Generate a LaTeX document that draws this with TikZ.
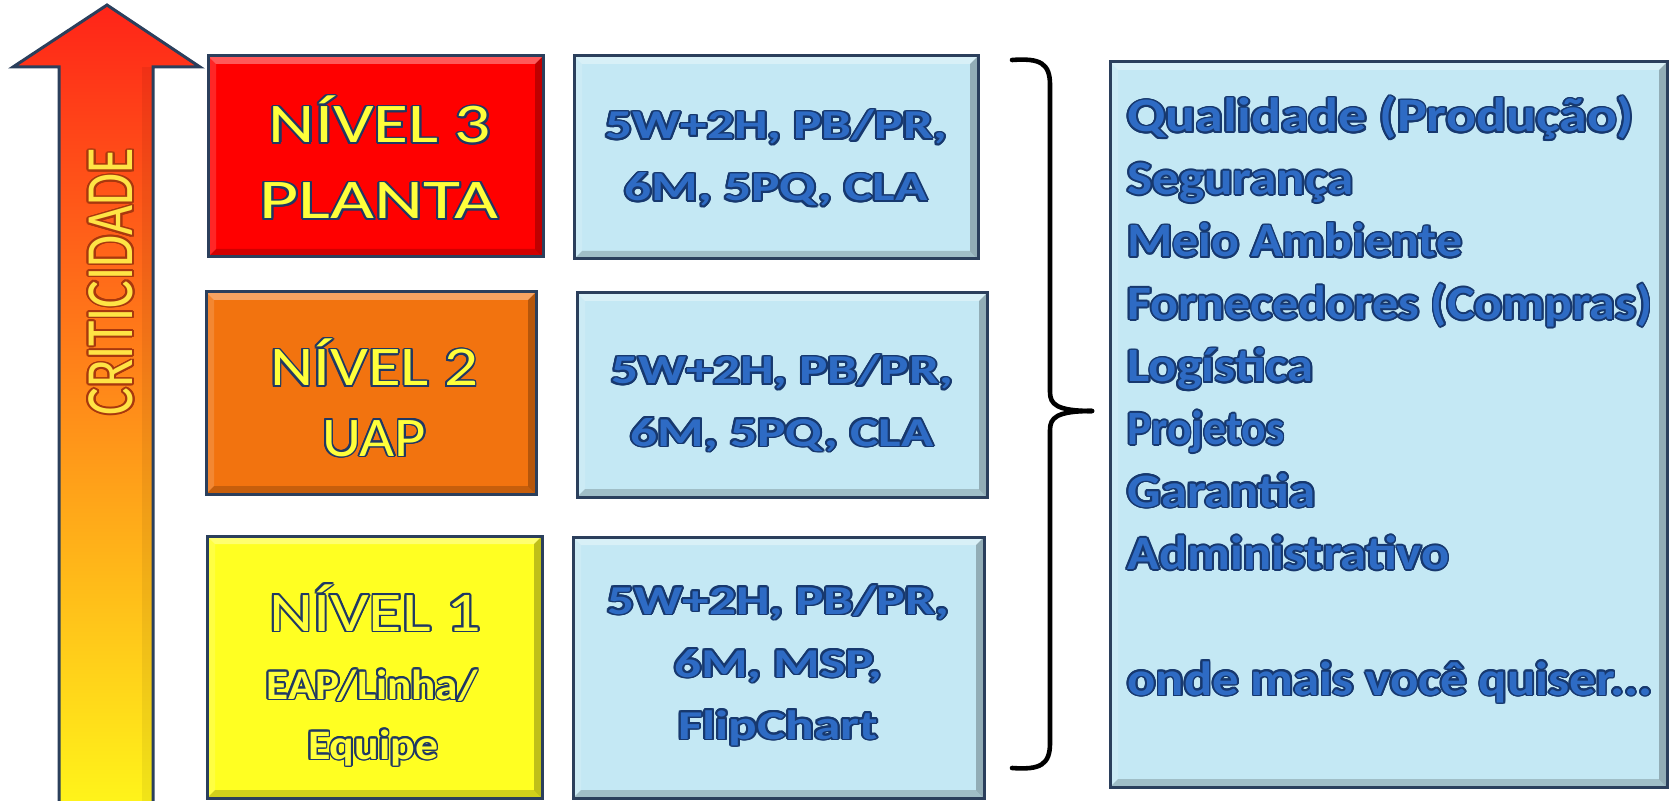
\documentclass[tikz,border=0pt]{standalone}
\usepackage{fontspec}
\setmainfont{Carlito}
\usepackage{graphicx}
\usepackage{contour}
\contourlength{0.8pt}

\definecolor{cEdge}{HTML}{2B3F5C}
\definecolor{cRed}{HTML}{FF0000}
\definecolor{cOrange}{HTML}{F2730F}
\definecolor{cYellow}{HTML}{FFFF22}
\definecolor{cSky}{HTML}{C4E8F4}
\definecolor{cNavy}{HTML}{1F3864}
\definecolor{cLvFill}{HTML}{FFFF3A}
\definecolor{cBlFill}{HTML}{2E6BC4}
\definecolor{cBlLine}{HTML}{17386E}
\definecolor{cArTop}{HTML}{FF2418}
\definecolor{cArMid}{HTML}{FF7A1E}
\definecolor{cArBot}{HTML}{FFF51A}
\definecolor{cCrFill}{HTML}{FFE445}
\definecolor{cCrLine}{HTML}{A8380E}

% text treatments: letters stretched to a given width, with a dark outline
\newcommand\lvtxt[2]{\resizebox{#1}{\height}{\color{cLvFill}\contour{cNavy}{#2}}}
\newcommand\bltxt[1]{\scalebox{1.3}[1]{\bfseries\color{cBlFill}\contour{cBlLine}{#1}}}
\newcommand\blwide[2]{\resizebox{#1}{\height}{\bfseries\color{cBlFill}\contour{cBlLine}{#2}}}
\newcommand\crtxt[1]{\scalebox{1}[1.3]{\color{cCrFill}\contour{cCrLine}{#1}}}

\tikzset{
  box/.style={draw=cEdge, line width=1.5pt, inner sep=0pt, outer sep=0pt},
  lvl/.style={anchor=base, inner sep=0pt, font=\fontsize{28}{32}\selectfont},
  lvlsmall/.style={anchor=base, inner sep=0pt, font=\fontsize{21}{25}\selectfont\bfseries},
  tooltxt/.style={anchor=base, inner sep=0pt, font=\fontsize{20.5}{25}\selectfont},
  listtxt/.style={anchor=base west, inner sep=0pt, font=\fontsize{24}{28}\selectfont},
  arrline/.style={draw=cEdge, line width=1.5pt, line join=miter},
  brace/.style={draw=black, line width=2.3pt, line cap=round},
}

\newcommand\bevel[1]{%
  \fill[white,opacity=0.35] (#1.north west) -- (#1.north east)
    -- ([xshift=-4pt,yshift=-4pt]#1.north east) -- ([xshift=4pt,yshift=-4pt]#1.north west) -- cycle;
  \fill[white,opacity=0.15] (#1.north west) -- ([xshift=4pt,yshift=-4pt]#1.north west)
    -- ([xshift=4pt,yshift=4pt]#1.south west) -- (#1.south west) -- cycle;
  \fill[black,opacity=0.18] (#1.south west) -- (#1.south east)
    -- ([xshift=-4pt,yshift=4pt]#1.south east) -- ([xshift=4pt,yshift=4pt]#1.south west) -- cycle;
  \fill[black,opacity=0.25] (#1.north east) -- (#1.south east)
    -- ([xshift=-4pt,yshift=4pt]#1.south east) -- ([xshift=-4pt,yshift=-4pt]#1.north east) -- cycle;
  \draw[box] (#1.north west) rectangle (#1.south east);
}

\begin{document}
\begin{tikzpicture}[x=0.5pt,y=-0.5pt]
\useasboundingbox (0,0) rectangle (1673,801);
\fill[white] (0,0) rectangle (1673,801);

% criticality arrow
\shade[top color=cArTop, middle color=cArMid, bottom color=cArBot]
  (59,806) -- (59,67) -- (13,67) -- (107,5) -- (200,67) -- (153,67) -- (153,806) -- cycle;
\fill[black,opacity=0.06] (142,806) -- (142,67) -- (153,67) -- (153,806) -- cycle;
\draw[arrline] (59,806) -- (59,67) -- (13,67) -- (107,5) -- (200,67) -- (153,67) -- (153,806);
\node[rotate=90, inner sep=0pt, font=\fontsize{26}{30}\selectfont] (crit) at (112,282) {\crtxt{CRITICIDADE}};

% level boxes
\node[box, fill=cRed,    minimum width=167.5pt, minimum height=100.5pt] (n3) at (375.5,156.5) {};
\node[box, fill=cOrange, minimum width=165pt,   minimum height=101pt]   (n2) at (371,393) {};
\node[box, fill=cYellow, minimum width=167.5pt, minimum height=131pt]   (n1) at (374.5,667) {};

% tool boxes
\node[box, fill=cSky, minimum width=202pt,   minimum height=101.5pt] (t3) at (776,157.5) {};
\node[box, fill=cSky, minimum width=205pt,   minimum height=102pt]   (t2) at (782,395) {};
\node[box, fill=cSky, minimum width=205.5pt, minimum height=130.5pt] (t1) at (778.5,667.5) {};

% application areas box
\node[box, fill=cSky, minimum width=278.5pt, minimum height=362.5pt] (areas) at (1388.5,424.5) {};

\foreach \b in {n3,n2,n1,t3,t2,t1,areas} {\bevel{\b}}

% level labels
\node[lvl] (n3a) at (380,143) {\lvtxt{111pt}{NÍVEL 3}};
\node[lvl] (n3b) at (379,219) {\lvtxt{119.5pt}{PLANTA}};
\node[lvl] (n2a) at (374,386) {\lvtxt{104pt}{NÍVEL 2}};
\node[lvl] (n2b) at (374,456) {\lvtxt{52pt}{UAP}};
\node[lvl] (n1a) at (375,631) {\lvtxt{106pt}{NÍVEL 1}};
\node[lvlsmall] (n1b) at (372,699) {\lvtxt{105.5pt}{EAP/Linha/}};
\node[lvlsmall] (n1c) at (373,759) {\lvtxt{65pt}{Equipe}};

% tool labels
\node[tooltxt] (t3a) at (776,139) {\bltxt{5W+2H, PB/PR,}};
\node[tooltxt] (t3b) at (776,201) {\bltxt{6M, 5PQ, CLA}};
\node[tooltxt] (t2a) at (782,384) {\bltxt{5W+2H, PB/PR,}};
\node[tooltxt] (t2b) at (782,446) {\bltxt{6M, 5PQ, CLA}};
\node[tooltxt] (t1a) at (778,614) {\bltxt{5W+2H, PB/PR,}};
\node[tooltxt] (t1b) at (778,677) {\bltxt{6M, MSP,}};
\node[tooltxt] (t1c) at (778,739) {\bltxt{FlipChart}};

% areas list
\foreach \w/\t [count=\i] in {253pt/Qualidade (Produção), 113pt/Segurança,
    167.5pt/Meio Ambiente, 262.5pt/Fornecedores (Compras), 93pt/Logística,
    78.5pt/Projetos, 94pt/Garantia, 161pt/Administrativo}
  \node[listtxt] (a\i) at (1127,132+62.5*\i-62.5) {\blwide{\w}{\t}};
\node[listtxt] (a9) at (1127,695) {\blwide{262.5pt}{onde mais você quiser...}};

% grouping brace
\coordinate (bt) at (1012,60);
\coordinate (bb) at (1012,768);
\coordinate (btip) at (1092,411);
\draw[brace] (bt) .. controls (1040,58) and (1050,63) .. (1050,85) -- (1050,392)
  .. controls (1050,404) and (1056,411) .. (btip);
\draw[brace] (btip) .. controls (1056,411) and (1050,418) .. (1050,430) -- (1050,743)
  .. controls (1050,765) and (1040,770) .. (bb);
\end{tikzpicture}
\end{document}
